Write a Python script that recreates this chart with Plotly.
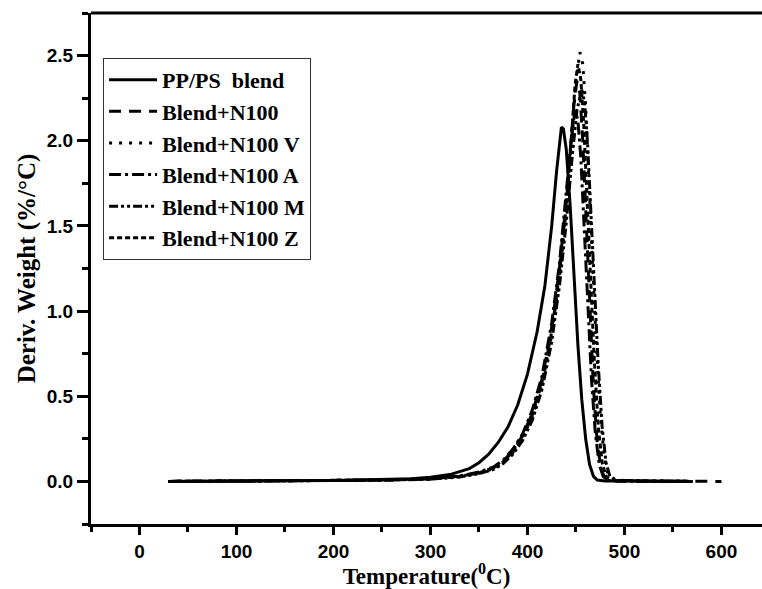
import plotly.graph_objects as go

# ---- data ----
names = ["PP/PS  blend", "Blend+N100", "Blend+N100 V", "Blend+N100 A", "Blend+N100 M", "Blend+N100 Z"]

t_pp = [30, 60, 100, 150, 200, 250, 280, 300, 320, 340, 350, 360, 370, 380, 390, 400, 410, 418, 425, 430, 433, 435, 437, 440, 444, 448, 452, 456, 460, 464, 468, 472, 480, 500, 540, 570]
v_pp = [0.0, 0.002, 0.003, 0.004, 0.006, 0.01, 0.016, 0.025, 0.04, 0.075, 0.11, 0.16, 0.23, 0.32, 0.45, 0.63, 0.88, 1.15, 1.5, 1.82, 2.0, 2.08, 2.07, 1.95, 1.62, 1.2, 0.8, 0.48, 0.25, 0.1, 0.03, 0.008, 0.003, 0.002, 0.001, 0.0]

t_n100 = [30, 100, 200, 250, 300, 330, 350, 365, 375, 385, 395, 405, 415, 425, 433, 440, 445, 448, 451, 454, 457, 460, 464, 468, 472, 476, 480, 485, 500, 530, 560, 575, 600]
v_n100 = [0.0, 0.002, 0.004, 0.008, 0.015, 0.03, 0.05, 0.08, 0.12, 0.18, 0.27, 0.4, 0.6, 0.9, 1.25, 1.65, 2.0, 2.22, 2.35, 2.28, 2.0, 1.6, 1.05, 0.55, 0.22, 0.07, 0.02, 0.005, 0.002, 0.001, 0.001, 0.0, 0.0]

t_v = [30, 100, 200, 250, 300, 330, 350, 365, 375, 385, 395, 405, 415, 425, 433, 440, 446, 450, 454, 457, 460, 463, 467, 471, 475, 479, 483, 490, 520, 570]
v_v = [0.0, 0.002, 0.004, 0.007, 0.014, 0.028, 0.048, 0.075, 0.11, 0.17, 0.26, 0.38, 0.57, 0.86, 1.2, 1.6, 2.05, 2.35, 2.52, 2.45, 2.2, 1.85, 1.3, 0.8, 0.4, 0.15, 0.04, 0.008, 0.002, 0.0]

t_a = [30, 100, 200, 250, 300, 330, 350, 365, 375, 385, 395, 405, 415, 425, 433, 440, 445, 449, 452, 455, 458, 462, 466, 470, 474, 478, 482, 490, 520, 570]
v_a = [0.0, 0.002, 0.004, 0.008, 0.016, 0.032, 0.055, 0.085, 0.125, 0.19, 0.28, 0.42, 0.62, 0.93, 1.28, 1.68, 2.0, 2.18, 2.12, 1.9, 1.55, 1.05, 0.6, 0.28, 0.1, 0.03, 0.008, 0.002, 0.001, 0.0]

t_m = [30, 100, 200, 250, 300, 330, 350, 365, 375, 385, 395, 405, 415, 425, 433, 440, 446, 451, 456, 459, 462, 465, 469, 473, 477, 481, 485, 492, 520, 570]
v_m = [0.0, 0.002, 0.004, 0.007, 0.013, 0.026, 0.045, 0.07, 0.105, 0.16, 0.24, 0.36, 0.54, 0.82, 1.15, 1.52, 1.9, 2.18, 2.3, 2.22, 1.98, 1.65, 1.15, 0.68, 0.32, 0.11, 0.03, 0.006, 0.002, 0.0]

t_z = [30, 100, 200, 250, 300, 330, 350, 365, 375, 385, 395, 405, 415, 425, 433, 440, 446, 449, 452, 455, 458, 461, 465, 469, 473, 477, 481, 488, 520, 570]
v_z = [0.0, 0.002, 0.004, 0.008, 0.015, 0.03, 0.05, 0.08, 0.115, 0.175, 0.27, 0.39, 0.58, 0.88, 1.22, 1.62, 2.08, 2.32, 2.45, 2.36, 2.1, 1.75, 1.2, 0.7, 0.32, 0.11, 0.03, 0.006, 0.002, 0.0]

x_ticks = [0, 100, 200, 300, 400, 500, 600]
y_ticks = [0.0, 0.5, 1.0, 1.5, 2.0, 2.5]
y_ticklabels = ["0.0", "0.5", "1.0", "1.5", "2.0", "2.5"]

series = [(t_pp, v_pp), (t_n100, v_n100), (t_v, v_v), (t_a, v_a), (t_m, v_m), (t_z, v_z)]
dashes = ["solid", "12px,8px", "3px,7px", "12px,4px,3px,4px", "9px,3px,3px,3px,3px,3px", "5px,3px"]

fig = go.Figure()
for (tx, vy), nm, ds in zip(series, names, dashes):
    fig.add_trace(go.Scatter(x=tx, y=vy, mode="lines", name=nm,
                             line=dict(color="black", width=3, dash=ds)))

tickfont = dict(family="Liberation Sans, Arial, sans-serif", size=19, color="black", weight="bold")
ytitlefont = dict(family="Liberation Serif, Times New Roman, serif", size=25, color="black", weight="bold")
xtitlefont = dict(family="Liberation Serif, Times New Roman, serif", size=23, color="black", weight="bold")

fig.update_layout(
    width=762, height=589,
    margin=dict(l=91, r=0, t=13, b=65),
    paper_bgcolor="white", plot_bgcolor="white",
    showlegend=True,
    legend=dict(x=0.018, y=0.912, xanchor="left", yanchor="top",
                bgcolor="white", bordercolor="#333", borderwidth=1,
                font=dict(family="Liberation Serif, Times New Roman, serif", size=22, color="black", weight="bold"),
                tracegroupgap=0, itemwidth=48),
    xaxis=dict(range=[-50, 641.8], tickvals=x_ticks, showgrid=False, zeroline=False,
               showline=True, linecolor="black", linewidth=3,
               ticks="outside", ticklen=8, tickwidth=3, tickcolor="black",
               minor=dict(dtick=50, tick0=-50, ticks="outside", ticklen=5, tickwidth=3, tickcolor="black"),
               tickfont=tickfont,
               title=dict(text="Temperature(<sup>0</sup>C)", font=xtitlefont, standoff=8)),
    yaxis=dict(range=[-0.25, 2.75], tickvals=y_ticks, ticktext=y_ticklabels, showgrid=False, zeroline=False,
               showline=True, linecolor="black", linewidth=3,
               ticks="outside", ticklen=11, tickwidth=3, tickcolor="black",
               minor=dict(dtick=0.25, tick0=0, ticks="outside", ticklen=6, tickwidth=3, tickcolor="black"),
               tickfont=tickfont,
               title=dict(text="Deriv. Weight (%/°C)", font=ytitlefont, standoff=5)),
)

# top frame line
fig.add_shape(type="line", xref="paper", yref="paper", x0=0, x1=1, y0=1, y1=1,
              line=dict(color="black", width=3))

fig.write_html("out.html")
